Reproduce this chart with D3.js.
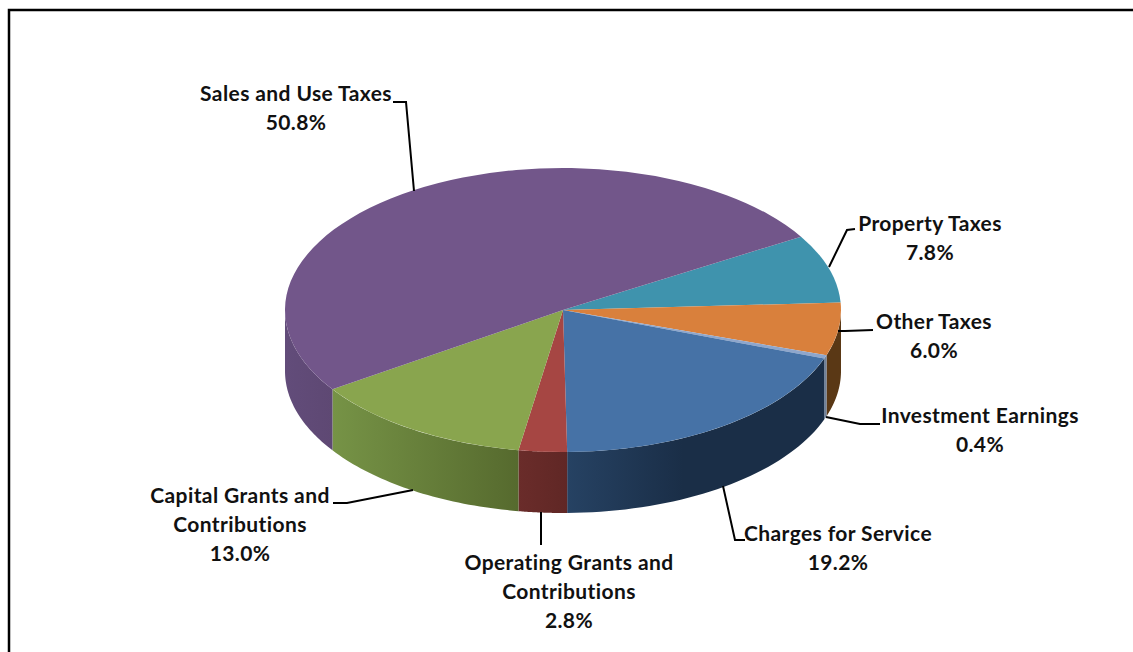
<!DOCTYPE html>
<html><head><meta charset="utf-8">
<script src="https://cdn.jsdelivr.net/npm/d3@7"></script>
<style>html,body{margin:0;padding:0;background:#fff;overflow:hidden}
text{font-family:Lato,"Open Sans",sans-serif;font-weight:700;font-size:21px;letter-spacing:.4px;fill:#111;text-anchor:middle}</style>
</head><body><svg id="c" width="1133" height="652"></svg>
<script>
const categories=["Property Taxes","Other Taxes","Investment Earnings","Charges for Service","Operating Grants and Contributions","Capital Grants and Contributions","Sales and Use Taxes"];
const values=[7.8,6.0,0.4,19.2,2.8,13.0,50.8];
const topColors=["#3f93ad","#d9803c","#8ea6cc","#4672a6","#a64643","#89a54e","#72568a"];
const sideFrom=["#2c6a7e","#5a3815","#6f8099","#264263","#6a2c2a","#769346","#624c7a"];
const sideTo=["#2c6a7e","#5a3815","#6f8099","#1a2e47","#602725","#566a2e","#5e4873"];
const sideStop=[1,1,1,0.45,1,1,1];
const labelLines=[["Property Taxes","7.8%"],["Other Taxes","6.0%"],["Investment Earnings","0.4%"],["Charges for Service","19.2%"],["Operating Grants and","Contributions","2.8%"],["Capital Grants and","Contributions","13.0%"],["Sales and Use Taxes","50.8%"]];
const labelAnchor=[[930,231],[934,329],[980,423],[838,541],[569,570],[240,503],[296,101]];
const leaders=[[[855,229],[847,230],[829,267]],[[873,330],[845,331],[838,331]],[[880,424],[860,424],[826,417]],[[745,540],[735,540],[723,486]],[[541,545],[541,512]],[[333,503],[347,503],[413,490]],[[393,102],[406,102],[414,191]]];

const cx=563,cy=310,rx=278,ry=142,depth=61,start=58.9*Math.PI/180;
const svg=d3.select("#c");
svg.append("path").attr("d","M1133,10H9V652").attr("fill","none").attr("stroke","#000").attr("stroke-width",2.5);

const arcs=d3.pie().sort(null).startAngle(start).endAngle(start+2*Math.PI)(values);
const defs=svg.append("defs");
const px=a=>cx+rx*Math.sin(a), py=a=>cy-ry*Math.cos(a);
const line=d3.line();
// visible wall runs through the front half of the ellipse
const wall=(a0,a1)=>{
  const s=Math.max(a0,Math.PI/2), e=Math.min(a1,3*Math.PI/2);
  if(e<=s) return null;
  const t=d3.range(0,41).map(i=>s+(e-s)*i/40);
  const up=t.map(a=>[px(a),py(a)]), dn=t.slice().reverse().map(a=>[px(a),py(a)+depth]);
  return {d:line(up.concat(dn))+"Z",x0:px(s),x1:px(e)};
};
arcs.forEach((d,i)=>{
  const w=wall(d.startAngle,d.endAngle);
  if(!w) return;
  const g=defs.append("linearGradient").attr("id","g"+i).attr("gradientUnits","userSpaceOnUse")
    .attr("x1",Math.min(w.x0,w.x1)).attr("x2",Math.max(w.x0,w.x1)).attr("y1",0).attr("y2",0);
  g.append("stop").attr("offset",0).attr("stop-color",sideFrom[i]);
  g.append("stop").attr("offset",sideStop[i]).attr("stop-color",sideTo[i]);
  svg.append("path").attr("d",w.d).attr("fill",`url(#g${i})`);
});
const face=svg.append("g").attr("transform",`translate(${cx},${cy}) scale(1,${ry/rx})`);
const arc=d3.arc().innerRadius(0).outerRadius(rx);
face.selectAll("path").data(arcs).join("path").attr("d",arc)
  .attr("fill",(d,i)=>topColors[i]);

svg.append("g").selectAll("path").data(leaders).join("path")
  .attr("d",d=>line(d)).attr("fill","none").attr("stroke","#000").attr("stroke-width",2);

labelLines.forEach((ls,i)=>{
  const t=svg.append("text");
  ls.forEach((s,j)=>t.append("tspan").attr("x",labelAnchor[i][0]).attr("y",labelAnchor[i][1]+j*29).text(s));
});
</script></body></html>
